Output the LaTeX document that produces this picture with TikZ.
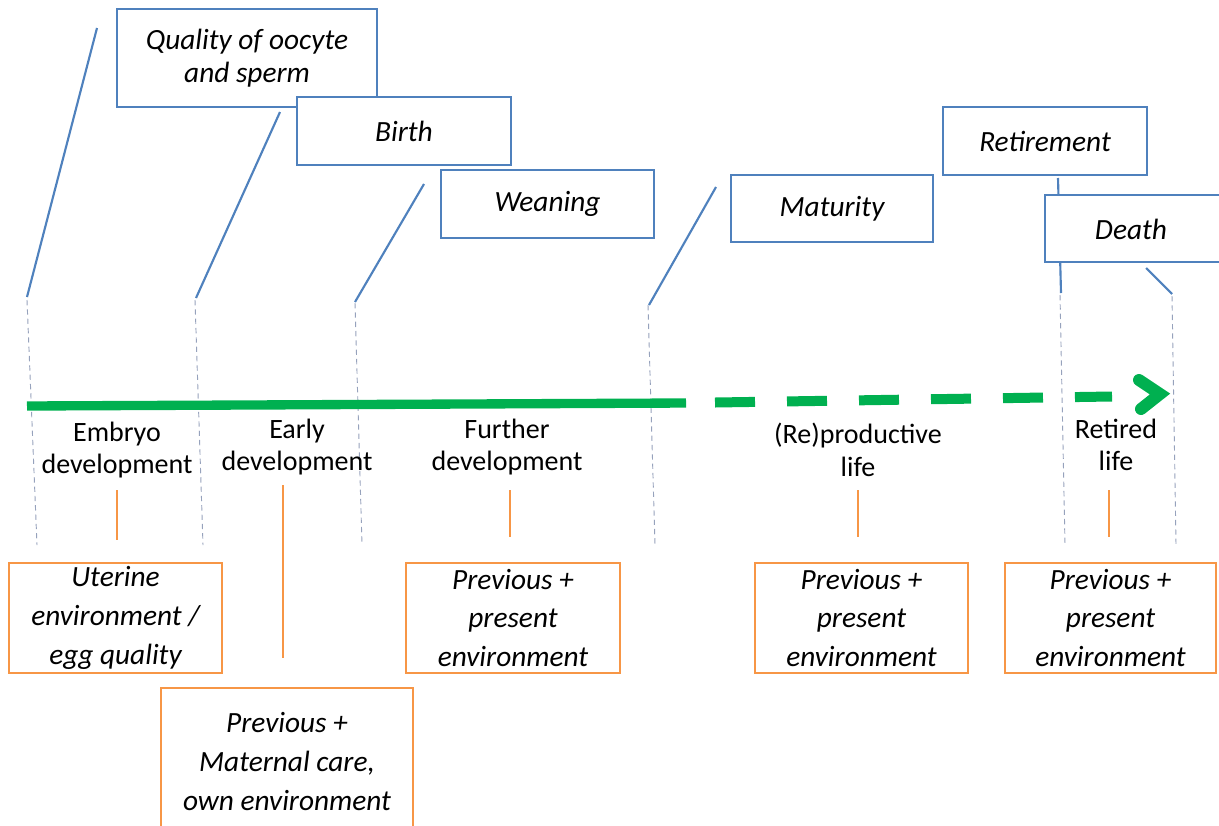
\documentclass[tikz,border=0pt]{standalone}
\usepackage{fontspec}
\setmainfont{Carlito}
\definecolor{bblue}{RGB}{79,129,189}
\definecolor{borange}{RGB}{247,150,70}
\definecolor{bgreen}{RGB}{0,176,80}
\definecolor{dgray}{RGB}{150,162,188}
\begin{document}
\begin{tikzpicture}[x=0.75pt,y=-0.75pt,
  bluebox/.style={draw=bblue,line width=1.9pt,fill=white,inner sep=0pt,align=center,font=\fontsize{22}{25}\selectfont\itshape},
  orangebox/.style={draw=borange,line width=1.9pt,fill=white,inner sep=0pt,align=center,font=\fontsize{22}{29}\selectfont\itshape},
  boxtext/.style={inner sep=0pt,align=center,font=\fontsize{22}{25}\selectfont\itshape},
  phase/.style={align=center,inner sep=0pt,font=\fontsize{21}{24.5}\selectfont},
  blueline/.style={draw=bblue,line width=1.6pt},
  orangeline/.style={draw=borange,line width=1.6pt},
  guide/.style={draw=dgray,line width=0.7pt,dash pattern=on 4pt off 3pt},
  lifeline/.style={draw=bgreen,line width=7pt},
]
\useasboundingbox (0,0) rectangle (1219,825);
\clip (0,0) rectangle (1219,825);

% coordinates
\coordinate (b1a) at (97,28);   \coordinate (b1b) at (27,297);
\coordinate (b2a) at (280,112); \coordinate (b2b) at (196,298);
\coordinate (b3a) at (424,184); \coordinate (b3b) at (355,302);
\coordinate (b4a) at (716,187); \coordinate (b4b) at (649,305);
\coordinate (b5a) at (1058,178); \coordinate (b5b) at (1061,293);
\coordinate (b6a) at (1146,268); \coordinate (b6b) at (1172,294);

\coordinate (d1a) at (27,300);   \coordinate (d1b) at (37,545);
\coordinate (d2a) at (195,300);  \coordinate (d2b) at (203,545);
\coordinate (d3a) at (355,303);  \coordinate (d3b) at (362,545);
\coordinate (d4a) at (648,305);  \coordinate (d4b) at (655,545);
\coordinate (d5a) at (1060,295); \coordinate (d5b) at (1065,545);
\coordinate (d6a) at (1172,296); \coordinate (d6b) at (1176,545);

\coordinate (o1a) at (117,490);  \coordinate (o1b) at (117,540);
\coordinate (o2a) at (283,485);  \coordinate (o2b) at (283,658);
\coordinate (o3a) at (510,490);  \coordinate (o3b) at (510,537);
\coordinate (o4a) at (858,490);  \coordinate (o4b) at (858,537);
\coordinate (o5a) at (1109,490); \coordinate (o5b) at (1109,537);

\coordinate (gs) at (27,406);
\coordinate (gm) at (686,403);
\coordinate (gd) at (715,402.5);
\coordinate (ge) at (1112,396.5);
\coordinate (aw1) at (1139,380);
\coordinate (atip) at (1160,394);
\coordinate (aw2) at (1141,409);

% guides
\foreach \i in {1,...,6} \draw[guide] (d\i a) -- (d\i b);

% blue event lines
\draw[blueline] (b1a) -- (b1b);
\draw[blueline] (b2a) -- (b2b);
\draw[blueline] (b3a) -- (b3b);
\draw[blueline] (b4a) -- (b4b);
\draw[blueline] (b5a) -- (b5b);
\draw[blueline] (b6a) -- (b6b);

% event boxes
\node[bluebox,minimum width=195pt,minimum height=73.5pt] (quality) at (247,58) {Quality of oocyte\\and sperm};
\node[bluebox,minimum width=160.5pt,minimum height=51pt] (birth) at (404,131) {Birth};
\node[bluebox,minimum width=159.75pt,minimum height=51pt] (weaning) at (547.5,204) {Weaning};
\node[bluebox,minimum width=151.5pt,minimum height=50.25pt] (maturity) at (832,208.5) {Maturity};
\node[bluebox,minimum width=153pt,minimum height=51pt] (retirement) at (1045,141) {Retirement};
\node[bluebox,minimum width=150pt,minimum height=50.25pt] (death) at (1145,228.5) {};
\node[boxtext] (deathtxt) at (1131,229) {Death};

% life line
\draw[lifeline] (gs) -- (gm);
\draw[lifeline,line width=7.5pt,dash pattern=on 30pt off 24pt] (gd) -- (ge);
\draw[draw=bgreen,line width=9pt,line cap=round,line join=miter] (aw1) -- (atip) -- (aw2);

% phase labels
\node[phase] (embryo) at (117,450) {Embryo\\development};
\node[phase] (early) at (297,447) {Early\\development};
\node[phase] (further) at (507,447) {Further\\development};
\node[phase] (repro) at (858,450) {(Re)productive\\life};
\node[phase] (retired) at (1116,445) {Retired\\life};

% orange lines
\foreach \i in {1,...,5} \draw[orangeline] (o\i a) -- (o\i b);

% environment boxes
\node[orangebox,minimum width=159.75pt,minimum height=82.5pt] (uterine) at (115.5,618) {Uterine\\environment /\\egg quality};
\node[orangebox,minimum width=160.5pt,minimum height=82.5pt] (furtherenv) at (513,618) {Previous +\\present\\environment};
\node[orangebox,minimum width=159.75pt,minimum height=82.5pt] (reproenv) at (861.5,618) {Previous +\\present\\environment};
\node[orangebox,minimum width=158.25pt,minimum height=82.5pt] (retiredenv) at (1110.5,618) {Previous +\\present\\environment};
\node[orangebox,minimum width=189pt,minimum height=110.25pt] (earlyenv) at (287,761.5) {Previous +\\Maternal care,\\own environment};
\end{tikzpicture}
\end{document}
